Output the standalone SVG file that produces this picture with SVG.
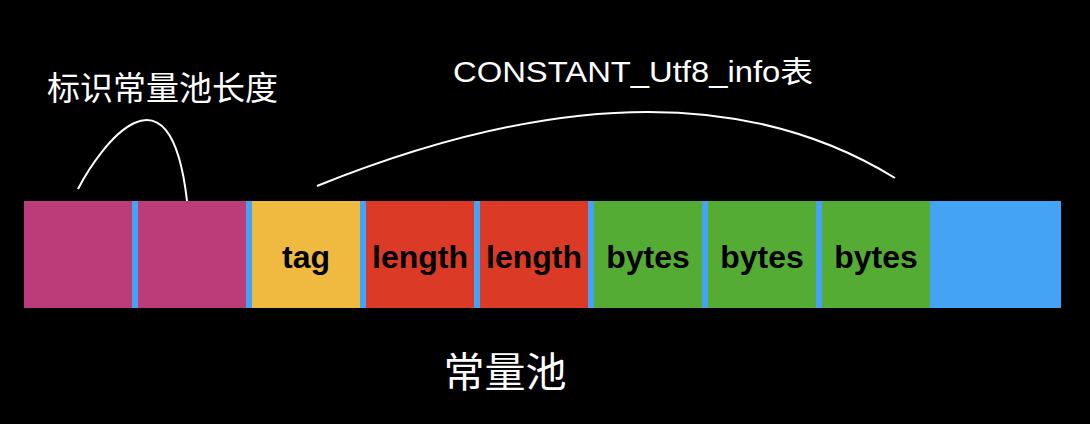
<svg xmlns="http://www.w3.org/2000/svg" width="1090" height="424" viewBox="0 0 1090 424">
<style>
.cell{stroke:none}
.mag{fill:#BC3C7A}
.yel{fill:#F0BA41}
.red{fill:#DB3A26}
.grn{fill:#55AC35}
.lbl{font-family:"Liberation Sans",Arial,sans-serif;font-weight:bold;font-size:32px;fill:#000;text-anchor:middle}
.cap{font-family:"Liberation Sans","Noto Sans CJK SC",sans-serif;fill:#fff}
.conn{fill:none;stroke:#fff;stroke-width:2}
</style>
<rect x="0" y="0" width="1090" height="424" fill="#000"/>
<g id="strip">
<rect x="24" y="201" width="1037" height="107" fill="#45A3F6"/>
</g>
<g id="len1"><rect class="cell mag" x="24" y="201" width="108" height="107"/></g>
<g id="len2"><rect class="cell mag" x="138" y="201" width="108" height="107"/></g>
<g id="tag"><rect class="cell yel" x="252" y="201" width="108" height="107"/><text class="lbl" x="306" y="268">tag</text></g>
<g id="length1"><rect class="cell red" x="366" y="201" width="108" height="107"/><text class="lbl" x="420" y="268">length</text></g>
<g id="length2"><rect class="cell red" x="480" y="201" width="108" height="107"/><text class="lbl" x="534" y="268">length</text></g>
<g id="bytes1"><rect class="cell grn" x="594" y="201" width="108" height="107"/><text class="lbl" x="648" y="268">bytes</text></g>
<g id="bytes2"><rect class="cell grn" x="708" y="201" width="108" height="107"/><text class="lbl" x="762" y="268">bytes</text></g>
<g id="bytes3"><rect class="cell grn" x="822" y="201" width="108" height="107"/><text class="lbl" x="876" y="268">bytes</text></g>
<g id="rest"><rect class="cell" x="930" y="201" width="131" height="107" fill="#45A3F6"/></g>
<g id="title1"><text class="cap" x="47" y="100" font-size="33">标识常量池长度</text></g>
<g id="title2"><text class="cap" x="453" y="82" font-size="30" textLength="360" lengthAdjust="spacingAndGlyphs">CONSTANT_Utf8_info表</text></g>
<g id="caption"><text class="cap" x="505" y="387" font-size="41" text-anchor="middle">常量池</text></g>
<g id="connectors">
<path class="conn" d="M78,189 C100,146 170,52 187,201"/>
<path class="conn" d="M317,186 Q674,42 895,178"/>
</g>
</svg>
